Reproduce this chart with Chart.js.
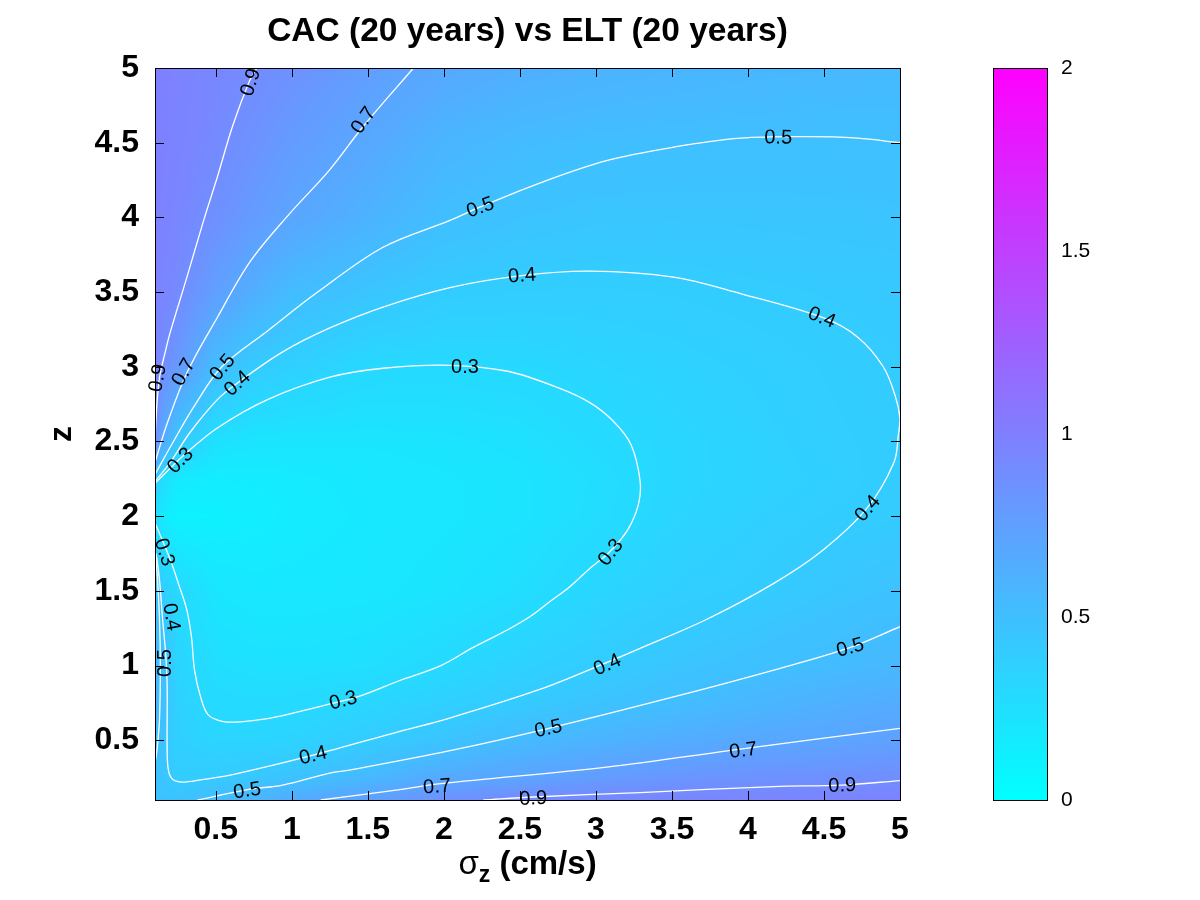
<!DOCTYPE html>
<html><head><meta charset="utf-8">
<script src="https://cdn.jsdelivr.net/npm/chart.js@4.4.0/dist/chart.umd.min.js"></script>
<style>
html,body{margin:0;padding:0;background:#fff;}
#wrap{position:relative;width:1200px;height:900px;overflow:hidden;}
#main{position:absolute;left:0;top:0;}
#cbar{position:absolute;left:960px;top:0;}
</style></head><body>
<div id="wrap"><canvas id="main" width="1200" height="900"></canvas><canvas id="cbar" width="240" height="900"></canvas></div>
<script>
// ---------- data ----------
const chartTitle = 'CAC (20 years) vs ELT (20 years)';
const xAxisTitleParts = ['\u03c3', 'z', ' (cm/s)'];
const yAxisTitle = 'z';
const xRange = [0.1, 5];
const yRange = [0.1, 5];
const xTicks = [0.5, 1, 1.5, 2, 2.5, 3, 3.5, 4, 4.5, 5];
const yTicks = [0.5, 1, 1.5, 2, 2.5, 3, 3.5, 4, 4.5, 5];
const cbRange = [0, 2];
const cbTicks = [0, 0.5, 1, 1.5, 2];

// value grid (rows follow gridY, columns follow gridX)
const gridX = [0.1, 0.15, 0.25, 0.5, 0.75, 1, 1.5, 2, 2.5, 3, 3.5, 4, 4.5, 5];
const gridY = [0.1, 0.25, 0.5, 0.75, 1, 1.5, 2, 2.25, 2.5, 3, 3.5, 4, 4.5, 5];
const row010 = [0.47, 0.47, 0.48, 0.52, 0.58, 0.66, 0.74, 0.86, 0.91, 0.93, 0.95, 0.96, 0.97, 0.98];
const row025 = [0.48, 0.45, 0.395, 0.41, 0.44, 0.47, 0.55, 0.665, 0.71, 0.77, 0.82, 0.85, 0.87, 0.89];
const row050 = [0.51, 0.47, 0.37, 0.335, 0.33, 0.345, 0.40, 0.46, 0.54, 0.59, 0.64, 0.68, 0.70, 0.74];
const row075 = [0.54, 0.50, 0.36, 0.29, 0.285, 0.29, 0.32, 0.365, 0.41, 0.465, 0.51, 0.565, 0.61, 0.65];
const row100 = [0.53, 0.50, 0.33, 0.26, 0.24, 0.235, 0.25, 0.30, 0.355, 0.395, 0.45, 0.485, 0.52, 0.56];
const row150 = [0.52, 0.39, 0.30, 0.20, 0.18, 0.18, 0.19, 0.215, 0.26, 0.325, 0.37, 0.395, 0.44, 0.475];
const row200 = [0.28, 0.16, 0.10, 0.115, 0.135, 0.15, 0.175, 0.195, 0.215, 0.265, 0.33, 0.36, 0.39, 0.41];
const row225 = [0.43, 0.27, 0.17, 0.145, 0.15, 0.16, 0.18, 0.195, 0.215, 0.26, 0.32, 0.345, 0.37, 0.405];
const row250 = [0.89, 0.67, 0.44, 0.24, 0.21, 0.205, 0.205, 0.215, 0.235, 0.285, 0.32, 0.35, 0.38, 0.40];
const row300 = [0.97, 0.895, 0.80, 0.52, 0.41, 0.37, 0.305, 0.298, 0.305, 0.33, 0.35, 0.37, 0.39, 0.41];
const row350 = [0.98, 0.96, 0.91, 0.75, 0.63, 0.525, 0.455, 0.40, 0.388, 0.385, 0.39, 0.402, 0.414, 0.425];
const row400 = [0.99, 0.98, 0.95, 0.87, 0.78, 0.70, 0.60, 0.505, 0.468, 0.45, 0.446, 0.45, 0.456, 0.46];
const row450 = [1.0, 0.99, 0.97, 0.92, 0.85, 0.78, 0.68, 0.58, 0.53, 0.51, 0.503, 0.497, 0.495, 0.497];
const row500 = [1.0, 0.99, 0.98, 0.94, 0.905, 0.86, 0.76, 0.68, 0.63, 0.60, 0.58, 0.565, 0.555, 0.55];
const gridZ = [row010, row025, row050, row075, row100, row150, row200, row225, row250, row300, row350, row400, row450, row500];

// contour lines: [x, y]
const c03 = [[0.10,2.22],[0.20,2.32],[0.28,2.40],[0.51,2.59],[0.84,2.78],[1.25,2.93],[1.60,2.99],[2.04,3.01],[2.42,2.97],[2.75,2.86],[2.96,2.76],[3.11,2.64],[3.23,2.48],[3.29,2.24],[3.28,2.08],[3.21,1.91],[3.09,1.76],[2.96,1.65],[2.83,1.53],[2.70,1.43],[2.57,1.33],[2.42,1.24],[2.19,1.12],[1.98,1.00],[1.71,0.90],[1.43,0.79],[1.20,0.73],[1.00,0.68],[0.84,0.645],[0.68,0.625],[0.55,0.625],[0.45,0.67],[0.40,0.79],[0.36,0.97],[0.34,1.19],[0.31,1.37],[0.26,1.53],[0.20,1.71],[0.11,1.93],[0.10,1.95]];
const c04 = [[0.10,2.23],[0.20,2.36],[0.33,2.56],[0.51,2.78],[0.64,2.89],[0.94,3.10],[1.25,3.26],[1.60,3.40],[2.04,3.53],[2.51,3.61],[2.96,3.64],[3.51,3.60],[3.95,3.49],[4.49,3.33],[4.72,3.20],[4.89,3.00],[4.97,2.80],[5.00,2.65],[4.99,2.55],[4.96,2.36],[4.78,2.05],[4.49,1.77],[4.17,1.55],[3.73,1.31],[3.29,1.115],[3.07,1.02],[2.63,0.84],[2.01,0.64],[1.71,0.56],[1.14,0.40],[0.61,0.27],[0.40,0.235],[0.28,0.22],[0.22,0.235],[0.19,0.29],[0.18,0.42],[0.18,0.86],[0.17,1.08],[0.15,1.31],[0.13,1.57],[0.11,1.73],[0.10,1.76]];
const c05L = [[0.10,1.78],[0.115,1.60],[0.13,1.30],[0.135,1.00],[0.13,0.65],[0.115,0.45],[0.10,0.35]];
const c05B = [[0.38,0.10],[0.71,0.17],[0.94,0.20],[1.25,0.28],[1.38,0.30],[2.04,0.43],[2.69,0.58],[3.51,0.79],[4.17,0.97],[4.67,1.12],[5.00,1.26]];
const c05U = [[0.10,2.28],[0.21,2.48],[0.36,2.74],[0.54,3.00],[0.84,3.24],[1.17,3.50],[1.60,3.80],[2.04,3.98],[2.24,4.07],[2.63,4.23],[3.07,4.38],[3.51,4.47],[3.95,4.53],[4.39,4.54],[4.72,4.53],[5.00,4.50]];
const c07U = [[0.10,2.36],[0.18,2.62],[0.31,2.96],[0.51,3.33],[0.73,3.71],[0.99,4.03],[1.25,4.32],[1.47,4.61],[1.80,5.00]];
const c07B = [[1.19,0.10],[1.71,0.17],[1.98,0.21],[3.07,0.32],[3.95,0.44],[5.00,0.58]];
const c09U = [[0.10,2.51],[0.11,2.71],[0.13,2.93],[0.17,3.11],[0.20,3.23],[0.31,3.60],[0.42,3.98],[0.51,4.27],[0.61,4.61],[0.72,4.91],[0.77,5.00]];
const c09B = [[2.26,0.10],[2.59,0.12],[3.29,0.15],[4.17,0.19],[4.62,0.20],[5.00,0.23]];
const contourLines = [c03, c04, c05L, c05B, c05U, c07U, c07B, c09U, c09B];

// contour labels: [text, x, y, angle in degrees]
const contourLabels = [
  ['0.9',0.725,4.906,-72], ['0.7',1.468,4.652,-55], ['0.5',2.238,4.070,-20], ['0.5',4.199,4.538,1],
  ['0.4',2.514,3.614,-4], ['0.4',4.488,3.333,22], ['0.3',2.139,2.999,0],
  ['0.9',0.113,2.925,-80], ['0.7',0.284,2.965,-60], ['0.5',0.541,2.999,-50], ['0.4',0.639,2.892,-42],
  ['0.3',0.264,2.376,-45], ['0.3',0.166,1.760,72], ['0.4',0.212,1.325,80], ['0.5',0.160,1.017,-90],
  ['0.3',1.337,0.770,-15], ['0.4',1.139,0.402,-14], ['0.5',0.705,0.167,-8], ['0.7',1.955,0.194,-4],
  ['0.9',2.587,0.114,-2], ['0.9',4.620,0.201,-2], ['0.7',3.968,0.435,-7], ['0.5',2.686,0.582,-12],
  ['0.5',4.672,1.124,-16], ['0.4',3.074,1.010,-24], ['0.4',4.784,2.055,-48], ['0.3',3.093,1.760,-52]
];

// ---------- helpers ----------
const FONT = '"Liberation Sans", Arial, Helvetica, sans-serif';
const fmt = v => String(Math.round(v * 100) / 100);
function coolColor(v) {
  let t = (v - cbRange[0]) / (cbRange[1] - cbRange[0]);
  t = Math.max(0, Math.min(1, t));
  return [Math.round(255 * t), Math.round(255 * (1 - t)), 255];
}
function locate(arr, v) {
  if (v <= arr[0]) return [0, 0];
  const n = arr.length;
  if (v >= arr[n - 1]) return [n - 2, 1];
  let i = 0;
  while (i < n - 2 && v > arr[i + 1]) i++;
  return [i, (v - arr[i]) / (arr[i + 1] - arr[i])];
}

const heatmapPlugin = {
  id: 'heatmap',
  beforeDatasetsDraw(chart) {
    const { ctx, chartArea: a, scales: { x, y } } = chart;
    const w = Math.round(a.right - a.left), h = Math.round(a.bottom - a.top);
    const off = document.createElement('canvas');
    off.width = w; off.height = h;
    const octx = off.getContext('2d');
    const img = octx.createImageData(w, h);
    const cols = [];
    for (let i = 0; i < w; i++) cols.push(locate(gridX, x.getValueForPixel(a.left + i + 0.5)));
    for (let j = 0; j < h; j++) {
      const [iy, fy] = locate(gridY, y.getValueForPixel(a.top + j + 0.5));
      const r0 = gridZ[iy], r1 = gridZ[iy + 1];
      for (let i = 0; i < w; i++) {
        const [ix, fx] = cols[i];
        const v0 = r0[ix] * (1 - fx) + r0[ix + 1] * fx;
        const v1 = r1[ix] * (1 - fx) + r1[ix + 1] * fx;
        const c = coolColor(v0 * (1 - fy) + v1 * fy);
        const k = (j * w + i) * 4;
        img.data[k] = c[0]; img.data[k + 1] = c[1]; img.data[k + 2] = c[2]; img.data[k + 3] = 255;
      }
    }
    octx.putImageData(img, 0, 0);
    ctx.drawImage(off, a.left, a.top, w, h);
  }
};

const framePlugin = {
  id: 'frame',
  afterDatasetsDraw(chart) {
    const { ctx, chartArea: a, scales: { x, y } } = chart;
    ctx.save();
    ctx.strokeStyle = '#000';
    ctx.lineWidth = 1;
    const L = 9;
    ctx.beginPath();
    xTicks.forEach(v => {
      if (v <= xRange[0] || v >= xRange[1]) return;
      const px = Math.round(x.getPixelForValue(v)) + 0.5;
      ctx.moveTo(px, a.bottom); ctx.lineTo(px, a.bottom - L);
      ctx.moveTo(px, a.top); ctx.lineTo(px, a.top + L);
    });
    yTicks.forEach(v => {
      if (v <= yRange[0] || v >= yRange[1]) return;
      const py = Math.round(y.getPixelForValue(v)) + 0.5;
      ctx.moveTo(a.left, py); ctx.lineTo(a.left + L, py);
      ctx.moveTo(a.right, py); ctx.lineTo(a.right - L, py);
    });
    ctx.stroke();
    ctx.strokeRect(Math.round(a.left) + 0.5, Math.round(a.top) + 0.5, Math.round(a.right - a.left), Math.round(a.bottom - a.top));
    ctx.restore();
  }
};

const labelPlugin = {
  id: 'clabels',
  afterDatasetsDraw(chart) {
    const { ctx, scales: { x, y } } = chart;
    ctx.save();
    ctx.font = '20px ' + FONT;
    ctx.fillStyle = '#000';
    ctx.textAlign = 'center';
    ctx.textBaseline = 'middle';
    contourLabels.forEach(([t, xv, yv, ang]) => {
      ctx.save();
      ctx.translate(x.getPixelForValue(xv), y.getPixelForValue(yv));
      ctx.rotate(ang * Math.PI / 180);
      ctx.fillText(t, 0, 1);
      ctx.restore();
    });
    ctx.restore();
  }
};

const textPlugin = {
  id: 'texts',
  afterDraw(chart) {
    const { ctx, chartArea: a } = chart;
    const cx = (a.left + a.right) / 2;
    ctx.save();
    ctx.fillStyle = '#000';
    // title
    ctx.font = 'bold 33.5px ' + FONT;
    ctx.textAlign = 'center';
    ctx.textBaseline = 'alphabetic';
    ctx.fillText(chartTitle, cx, 41);
    // x axis title with subscript
    const fSig = '33px ' + FONT, fSub = 'bold 23px ' + FONT, fMain = 'bold 33px ' + FONT;
    ctx.font = fSig; const w0 = ctx.measureText(xAxisTitleParts[0]).width;
    ctx.font = fSub; const w1 = ctx.measureText(xAxisTitleParts[1]).width;
    ctx.font = fMain; const w2 = ctx.measureText(xAxisTitleParts[2]).width;
    let sx = cx - (w0 + w1 + w2) / 2;
    const base = 874;
    ctx.textAlign = 'left';
    ctx.font = fSig; ctx.fillText(xAxisTitleParts[0], sx, base); sx += w0;
    ctx.font = fSub; ctx.fillText(xAxisTitleParts[1], sx, base + 8); sx += w1;
    ctx.font = fMain; ctx.fillText(xAxisTitleParts[2], sx, base);
    // y axis title
    ctx.save();
    ctx.translate(62, (a.top + a.bottom) / 2);
    ctx.rotate(-Math.PI / 2);
    ctx.font = 'bold 32px ' + FONT;
    ctx.textAlign = 'center';
    ctx.textBaseline = 'middle';
    ctx.fillText(yAxisTitle, 0, 0);
    ctx.restore();
    ctx.restore();
  }
};

// ---------- main chart ----------
const tickFont = { family: FONT, size: 32, weight: 'bold' };
new Chart(document.getElementById('main'), {
  type: 'scatter',
  data: {
    datasets: contourLines.map(pts => ({
      data: pts.map(([xv, yv]) => ({ x: xv, y: yv })),
      showLine: true, borderColor: '#ffffff', borderWidth: 1.3,
      pointRadius: 0, pointHoverRadius: 0, tension: 0.35, fill: false
    }))
  },
  options: {
    responsive: false, animation: false, events: [],
    layout: { padding: { left: 0, top: 68, right: 300, bottom: 0 } },
    plugins: { legend: { display: false }, tooltip: { enabled: false }, title: { display: false } },
    scales: {
      x: {
        type: 'linear', min: xRange[0], max: xRange[1],
        afterBuildTicks: s => { s.ticks = xTicks.map(v => ({ value: v })); },
        afterFit: s => { s.height = 100; },
        ticks: { font: tickFont, color: '#000', padding: 11, maxRotation: 0, autoSkip: false, callback: fmt },
        grid: { display: false, drawTicks: false }, border: { display: false }
      },
      y: {
        type: 'linear', min: yRange[0], max: yRange[1],
        afterBuildTicks: s => { s.ticks = yTicks.map(v => ({ value: v })); },
        afterFit: s => { s.width = 155; },
        ticks: { font: tickFont, color: '#000', padding: 16, autoSkip: false, callback: fmt },
        grid: { display: false, drawTicks: false }, border: { display: false }
      }
    }
  },
  plugins: [heatmapPlugin, framePlugin, labelPlugin, textPlugin]
});

// ---------- colour bar ----------
const cbBorder = {
  id: 'cbBorder',
  afterDatasetsDraw(chart) {
    const { ctx, chartArea: a } = chart;
    ctx.save(); ctx.strokeStyle = '#000'; ctx.lineWidth = 1;
    ctx.strokeRect(Math.round(a.left) + 0.5, Math.round(a.top) + 0.5, Math.round(a.right - a.left) - 1, Math.round(a.bottom - a.top));
    ctx.restore();
  }
};
new Chart(document.getElementById('cbar'), {
  type: 'bar',
  data: {
    labels: ['colour'],
    datasets: [{
      data: [[cbRange[0], cbRange[1]]],
      backgroundColor: (c) => {
        const a = c.chart.chartArea;
        if (!a) return 'rgb(128,128,255)';
        const g = c.chart.ctx.createLinearGradient(0, a.bottom, 0, a.top);
        const lo = coolColor(cbRange[0]), hi = coolColor(cbRange[1]);
        g.addColorStop(0, `rgb(${lo[0]},${lo[1]},${lo[2]})`);
        g.addColorStop(1, `rgb(${hi[0]},${hi[1]},${hi[2]})`);
        return g;
      },
      borderWidth: 0, categoryPercentage: 1, barPercentage: 1
    }]
  },
  options: {
    responsive: false, animation: false, events: [],
    layout: { padding: { left: 33, top: 68, right: 0, bottom: 100 } },
    plugins: { legend: { display: false }, tooltip: { enabled: false } },
    scales: {
      x: { display: false },
      y: {
        position: 'right', min: cbRange[0], max: cbRange[1],
        afterBuildTicks: s => { s.ticks = cbTicks.map(v => ({ value: v })); },
        afterFit: s => { s.width = 152; },
        ticks: { font: { family: FONT, size: 21 }, color: '#000', padding: 13, callback: fmt },
        grid: { display: false, drawTicks: false }, border: { display: false }
      }
    }
  },
  plugins: [cbBorder]
});
</script>
</body></html>
